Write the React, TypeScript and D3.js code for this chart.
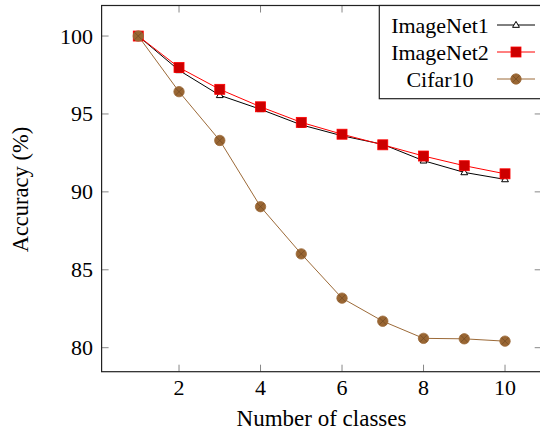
import React from "react";
import * as d3 from "d3";

const classes = [1, 2, 3, 4, 5, 6, 7, 8, 9, 10];
const imageNet1 = [100, 97.8, 96.2, 95.3, 94.3, 93.6, 93.05, 92.0, 91.25, 90.8];
const imageNet2 = [100, 97.98, 96.58, 95.46, 94.46, 93.7, 93.02, 92.3, 91.68, 91.16];
const cifar10 = [100, 96.43, 93.3, 89.05, 86.02, 83.18, 81.7, 80.6, 80.57, 80.42];
const xTicks = [2, 4, 6, 8, 10];
const yTicks = [80, 85, 90, 95, 100];
const seriesNames = ["ImageNet1", "ImageNet2", "Cifar10"];

const W = 540;
const H = 430;
const L = 101.6, R = 541.7, T = 5.5, B = 371.7;
const FONT = "'Liberation Serif', 'DejaVu Serif', serif";

const x = d3.scaleLinear().domain([0.1, 10.9]).range([L, R]);
const y = d3.scaleLinear().domain([78.46, 101.96]).range([B, T]);

const BROWN_LINE = "#9c6a38";
const BROWN_FILL = "#996633";

function Triangle({ cx, cy }: { cx: number; cy: number }) {
  const s = 3.6;
  const pts = `${cx},${cy - s} ${cx + s * 0.95},${cy + s * 0.65} ${cx - s * 0.95},${cy + s * 0.65}`;
  return <polygon points={pts} fill="white" stroke="black" strokeWidth={1} />;
}
function Square({ cx, cy }: { cx: number; cy: number }) {
  const s = 5;
  return <rect x={cx - s} y={cy - s} width={2 * s} height={2 * s} fill="#cc0000" stroke="#ff0000" strokeWidth={0.8} />;
}
function OTimes({ cx, cy }: { cx: number; cy: number }) {
  const r = 5.2;
  const d = r * 0.7;
  return (
    <g>
      <circle cx={cx} cy={cy} r={r} fill={BROWN_FILL} stroke={BROWN_LINE} strokeWidth={0.8} />
      <line x1={cx - d} y1={cy - d} x2={cx + d} y2={cy + d} stroke="#6b4420" strokeWidth={0.6} />
      <line x1={cx - d} y1={cy + d} x2={cx + d} y2={cy - d} stroke="#6b4420" strokeWidth={0.6} />
    </g>
  );
}

export default function App() {
  const line = d3.line<number>().x((_, i) => x(classes[i])).y((v) => y(v));
  const legendRows = [
    { name: seriesNames[0], color: "black", Mark: Triangle },
    { name: seriesNames[1], color: "#ff0000", Mark: Square },
    { name: seriesNames[2], color: BROWN_LINE, Mark: OTimes },
  ];
  return (
    <svg width={W} height={H} style={{ position: "fixed", left: 0, top: 0, display: "block", background: "white" }}>
      {xTicks.map((t) => (
        <g key={"x" + t}>
          <line x1={x(t)} x2={x(t)} y1={B} y2={B - 7} stroke="#888" strokeWidth={1} />
          <line x1={x(t)} x2={x(t)} y1={T} y2={T + 7} stroke="#888" strokeWidth={1} />
          <text x={x(t)} y={395} textAnchor="middle" fontFamily={FONT} fontSize={22} fill="black">{t}</text>
        </g>
      ))}
      {yTicks.map((t) => (
        <g key={"y" + t}>
          <line x1={L} x2={L + 7} y1={y(t)} y2={y(t)} stroke="#888" strokeWidth={1} />
          <line x1={R} x2={R - 7} y1={y(t)} y2={y(t)} stroke="#888" strokeWidth={1} />
          <text x={93} y={y(t) + 7.5} textAnchor="end" fontFamily={FONT} fontSize={22} fill="black">{t}</text>
        </g>
      ))}
      <path d={line(imageNet1) || ""} fill="none" stroke="black" strokeWidth={1} />
      {imageNet1.map((v, i) => <Triangle key={"a" + i} cx={x(classes[i])} cy={y(v)} />)}
      <path d={line(imageNet2) || ""} fill="none" stroke="#ff0000" strokeWidth={1} />
      {imageNet2.map((v, i) => <Square key={"b" + i} cx={x(classes[i])} cy={y(v)} />)}
      <path d={line(cifar10) || ""} fill="none" stroke={BROWN_LINE} strokeWidth={1} />
      {cifar10.map((v, i) => <OTimes key={"c" + i} cx={x(classes[i])} cy={y(v)} />)}
      <rect x={L} y={T} width={R - L} height={B - T} fill="none" stroke="#222" strokeWidth={1.2} />
      <rect x={379.3} y={T} width={180} height={93.2} fill="white" stroke="#222" strokeWidth={1.2} />
      {legendRows.map((r, i) => {
        const cy = 25 + i * 27;
        const M = r.Mark;
        return (
          <g key={r.name}>
            <text x={440} y={cy + 7.5} textAnchor="middle" fontFamily={FONT} fontSize={22} fill="black">{r.name}</text>
            <line x1={497} x2={535} y1={cy} y2={cy} stroke={r.color} strokeWidth={1} />
            <M cx={516} cy={cy} />
          </g>
        );
      })}
      <text x={321.5} y={426} textAnchor="middle" fontFamily={FONT} fontSize={23} fill="black">Number of classes</text>
      <text transform={`translate(28, ${(T + B) / 2 + 1}) rotate(-90)`} textAnchor="middle" fontFamily={FONT} fontSize={22.5} fill="black">Accuracy (%)</text>
    </svg>
  );
}
